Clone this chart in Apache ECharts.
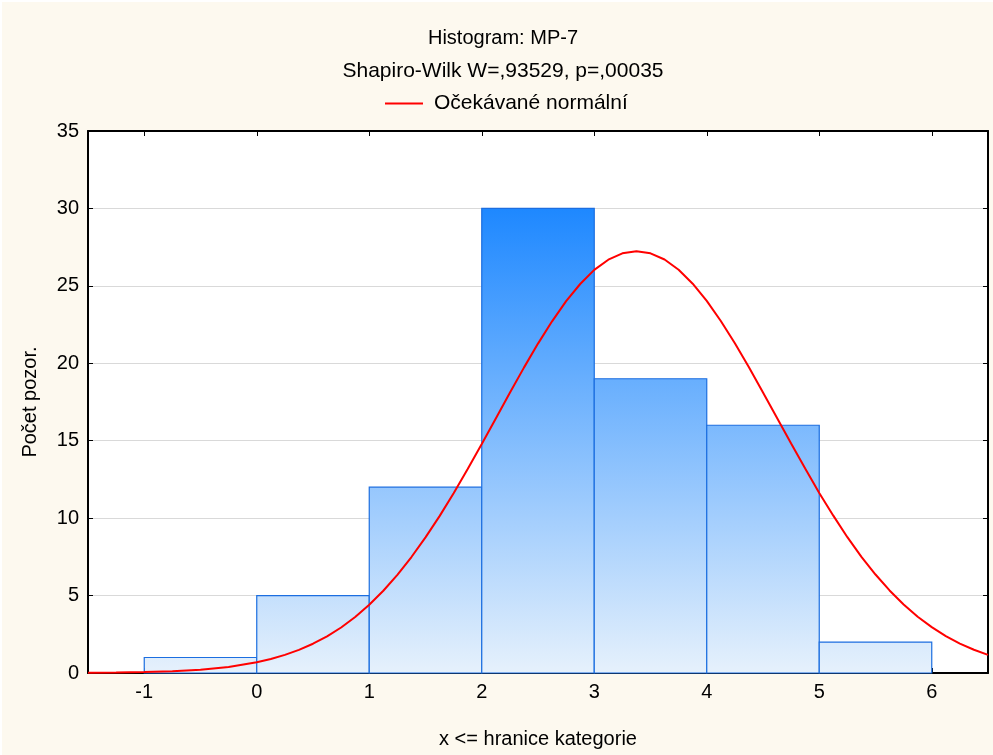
<!DOCTYPE html>
<html>
<head>
<meta charset="utf-8">
<script src="https://cdn.jsdelivr.net/npm/echarts@6/dist/echarts.min.js"></script>
<style>
html,body{margin:0;padding:0;background:#ffffff;}
#chart{position:absolute;left:2px;top:2px;width:991px;height:753px;}
</style>
</head>
<body>
<div id="chart"></div>
<script>
// Histogram bins (upper bound inclusive) and counts
const binLower = [-1, 0, 1, 2, 3, 4, 5];
const binUpper = [0, 1, 2, 3, 4, 5, 6];
const counts = [1, 5, 12, 30, 19, 16, 2];

// Expected normal curve
const curveX = [-1.5, -1.25, -1, -0.75, -0.5, -0.25, 0, 0.125, 0.25, 0.375, 0.5, 0.625, 0.75, 0.875, 1, 1.125, 1.25, 1.375, 1.5, 1.625, 1.75, 1.875, 2, 2.125, 2.25, 2.375, 2.5, 2.625, 2.75, 2.875, 3, 3.125, 3.25, 3.375, 3.5, 3.625, 3.75, 3.875, 4, 4.125, 4.25, 4.375, 4.5, 4.625, 4.75, 4.875, 5, 5.125, 5.25, 5.375, 5.5, 5.625, 5.75, 5.875, 6, 6.125, 6.25, 6.375, 6.5];
const curveY = [0.01, 0.03, 0.06, 0.11, 0.21, 0.39, 0.69, 0.90, 1.17, 1.49, 1.89, 2.37, 2.94, 3.62, 4.41, 5.31, 6.34, 7.49, 8.76, 10.13, 11.61, 13.17, 14.79, 16.44, 18.10, 19.72, 21.27, 22.71, 24.01, 25.12, 26.03, 26.69, 27.10, 27.24, 27.10, 26.70, 26.04, 25.14, 24.03, 22.73, 21.29, 19.74, 18.12, 16.47, 14.82, 13.20, 11.63, 10.16, 8.77, 7.50, 6.36, 5.33, 4.42, 3.63, 2.96, 2.38, 1.90, 1.50, 1.17];

const xTicks = [-1, 0, 1, 2, 3, 4, 5, 6];
const yTicks = [0, 5, 10, 15, 20, 25, 30, 35];

const titleText = 'Histogram: MP-7';
const subText = 'Shapiro-Wilk W=,93529, p=,00035';
const legendName = 'Očekávané normální';
const xName = 'x <= hranice kategorie';
const yName = 'Počet pozor.';

const FONT = "'Liberation Sans', Arial, sans-serif";
const FS = 20;

const barData = binLower.map((lo, i) => [lo, binUpper[i], counts[i]]);
const lineData = curveX.map((x, i) => [x, curveY[i]]);

const chart = echarts.init(document.getElementById('chart'));

const option = {
  backgroundColor: '#fdf9ef',
  animation: false,
  textStyle: { fontFamily: FONT },
  title: [
    { text: titleText, left: 501, top: 26, textAlign: 'center', padding: 0,
      textStyle: { fontSize: FS, fontWeight: 'normal', color: '#000', fontFamily: FONT } },
    { text: subText, left: 501, top: 59, textAlign: 'center', padding: 0,
      textStyle: { fontSize: 21, fontWeight: 'normal', color: '#000', fontFamily: FONT } }
  ],
  legend: {
    data: [{ name: legendName, icon: 'rect' }],
    left: 383, top: 91, padding: 0,
    itemWidth: 38, itemHeight: 2, itemGap: 10,
    textStyle: { fontSize: 21, color: '#000', fontFamily: FONT, padding: [0, 0, 0, 6] }
  },
  grid: { left: 86, top: 129, right: 5, bottom: 82, containLabel: false,
    show: true, backgroundColor: '#ffffff', borderWidth: 0 },
  xAxis: [
    { type: 'value', min: -1.5, max: 6.5, position: 'bottom',
      name: xName, nameLocation: 'middle', nameGap: 56,
      nameTextStyle: { fontSize: FS, color: '#000', fontFamily: FONT },
      axisLine: { onZero: false, lineStyle: { color: '#000', width: 2 } },
      axisTick: { inside: true, length: 5, customValues: xTicks, lineStyle: { color: '#000', width: 1 } },
      axisLabel: { customValues: xTicks, margin: 9, fontSize: FS, color: '#000', fontFamily: FONT },
      splitLine: { show: false } },
    { type: 'value', min: -1.5, max: 6.5, position: 'top',
      axisLine: { onZero: false, lineStyle: { color: '#000', width: 2 } },
      axisTick: { inside: true, length: 5, customValues: xTicks, lineStyle: { color: '#000', width: 1 } },
      axisLabel: { show: false },
      splitLine: { show: false } }
  ],
  yAxis: [
    { type: 'value', min: 0, max: 35, interval: 5, position: 'left',
      name: yName, nameLocation: 'middle', nameGap: 48,
      nameTextStyle: { fontSize: FS, color: '#000', fontFamily: FONT },
      axisLine: { show: true, onZero: false, lineStyle: { color: '#000', width: 2 } },
      axisTick: { show: true, inside: true, length: 5, lineStyle: { color: '#000', width: 1 } },
      axisLabel: { margin: 9, fontSize: FS, color: '#000', fontFamily: FONT },
      splitLine: { show: true, lineStyle: { color: '#d9d9d9', width: 1 } } },
    { type: 'value', min: 0, max: 35, interval: 5, position: 'right',
      axisLine: { show: true, onZero: false, lineStyle: { color: '#000', width: 2 } },
      axisTick: { show: true, inside: true, length: 5, lineStyle: { color: '#000', width: 1 } },
      axisLabel: { show: false },
      splitLine: { show: false } }
  ],
  series: [
    {
      type: 'custom',
      name: 'hist',
      xAxisIndex: 0, yAxisIndex: 0,
      encode: { x: [0, 1], y: 2 },
      data: barData,
      z: 2,
      renderItem: function (params, api) {
        const lo = api.value(0), hi = api.value(1), v = api.value(2);
        const p0 = api.coord([lo, 0]);
        const p1 = api.coord([hi, v]);
        const yTop = api.coord([0, 30])[1];
        const yBot = api.coord([0, 0])[1];
        return {
          type: 'rect',
          shape: { x: p0[0], y: p1[1], width: p1[0] - p0[0], height: p0[1] - p1[1] },
          style: {
            fill: new echarts.graphic.LinearGradient(0, yTop, 0, yBot, [
              { offset: 0, color: '#1e88ff' },
              { offset: 1, color: '#e6f1fc' }
            ], true),
            stroke: '#1c6ee0',
            lineWidth: 1.2
          }
        };
      }
    },
    {
      type: 'line',
      name: legendName,
      xAxisIndex: 0, yAxisIndex: 0,
      data: lineData,
      smooth: false,
      symbol: 'none',
      clip: true,
      z: 3,
      itemStyle: { color: '#ff0000' },
      lineStyle: { color: '#ff0000', width: 2 }
    }
  ]
};
chart.setOption(option);
</script>
</body>
</html>
